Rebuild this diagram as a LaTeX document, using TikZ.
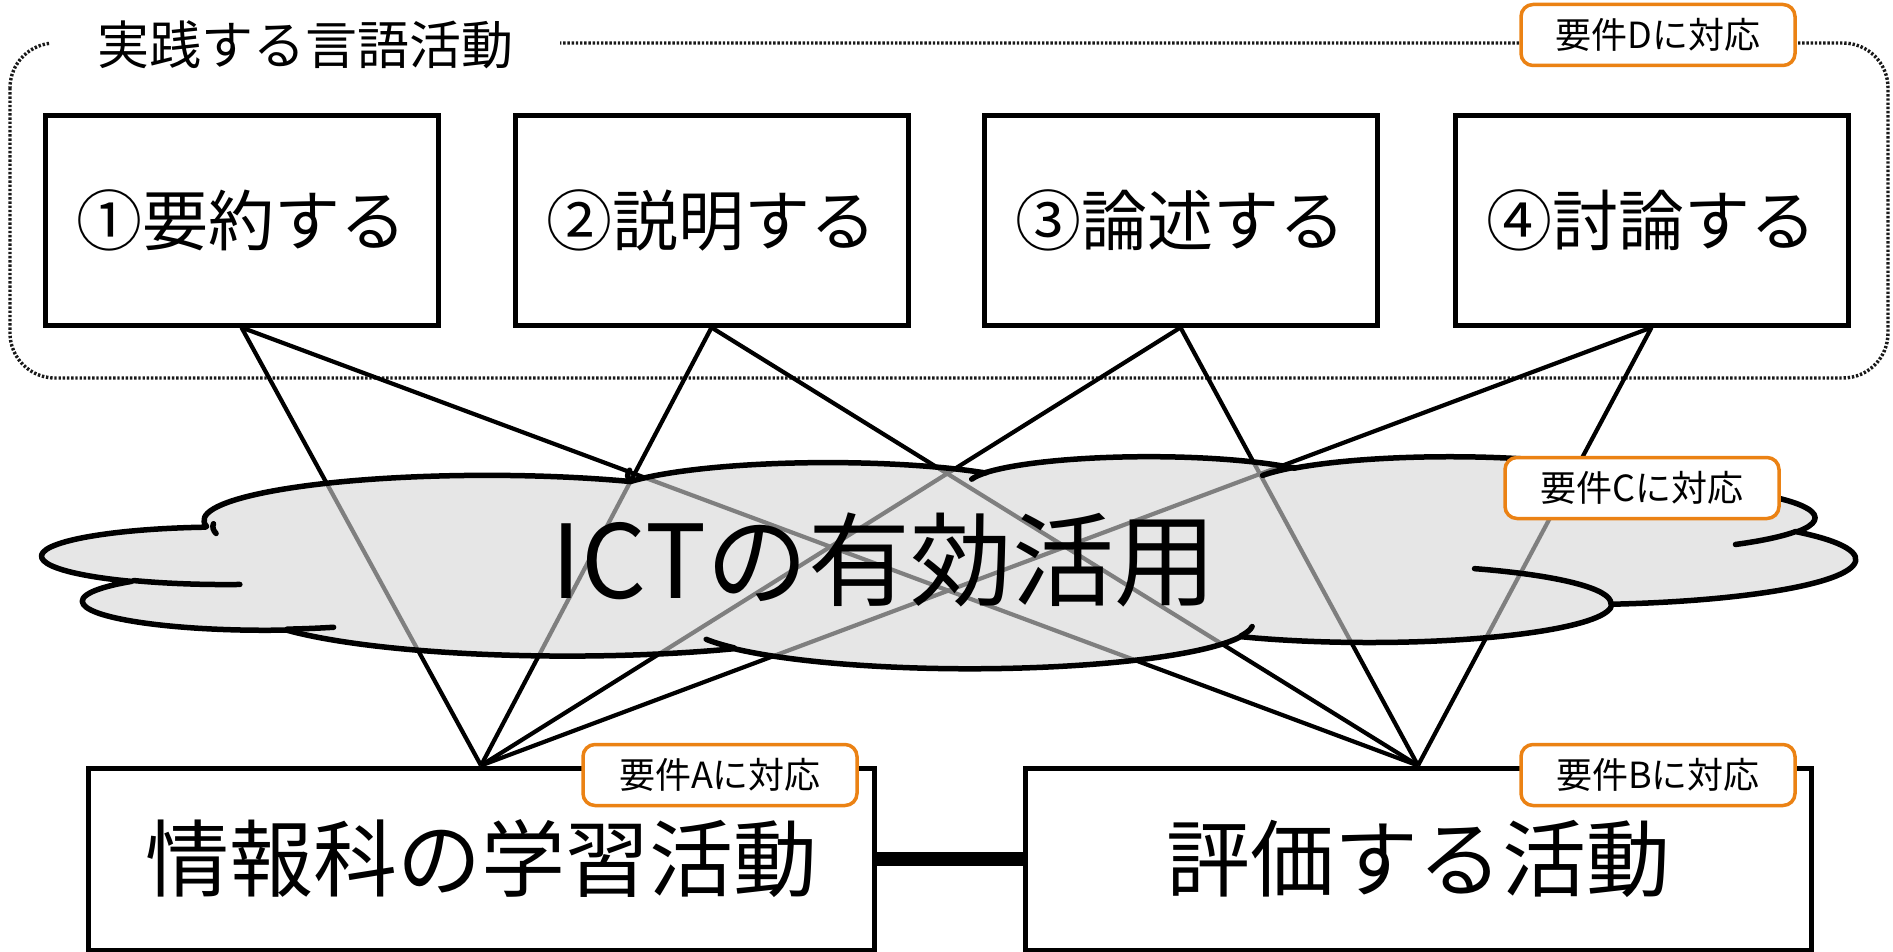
\documentclass[tikz,border=0pt]{standalone}
\usepackage{fontspec}
\setmainfont{Noto Sans CJK JP}

\definecolor{tagorange}{RGB}{235,130,20}
\definecolor{cloudgray}{RGB}{213,213,213}

% --- cloud geometry (DrawingML preset "cloud", path units /100) ---
\def\cldpath{}
\def\cldstubs{}
\newcommand\cldangles[4]{%
  \pgfmathsetmacro\cldta{atan2((#1)*sin(#3),(#2)*cos(#3))}%
  \pgfmathsetmacro\cldtb{atan2((#1)*sin((#3)+(#4)),(#2)*cos((#3)+(#4)))}%
  \pgfmathsetmacro\cldtb{\cldtb+360*(\cldtb<\cldta)}%
}
\newcommand\cldseg[4]{%
  \cldangles{#1}{#2}{#3}{#4}%
  \xdef\cldpath{\cldpath arc[start angle=\cldta, end angle=\cldtb, x radius=#1, y radius=#2]}%
}
\newcommand\cldstub[6]{%
  \cldangles{#3}{#4}{#5}{#6}%
  \xdef\cldstubs{\cldstubs (#1,#2) arc[start angle=\cldta, end angle=\cldtb, x radius=#3, y radius=#4]}%
}
\cldseg{67.53}{91.90}{-190.4875}{123.7805}
\cldseg{53.33}{72.67}{-144.1024}{89.9452}
\cldseg{43.65}{59.45}{-145.8079}{99.7230}
\cldseg{48.57}{65.95}{-130.9861}{117.2417}
\cldseg{53.33}{72.73}{-78.7089}{109.0269}
\cldseg{67.75}{92.20}{-46.2673}{130.2690}
\cldseg{57.85}{78.67}{0.6250}{114.0333}
\cldseg{67.52}{92.15}{22.4516}{115.1726}
\cldseg{77.20}{105.43}{66.2426}{75.7110}
\cldseg{43.60}{59.18}{-274.9421}{146.7356}
\cldseg{43.45}{59.45}{-246.8285}{152.5189}
\cldstub{46.93}{261.77}{43.45}{59.45}{86.7420}{26.4295}
\cldstub{69.28}{348.99}{43.60}{59.18}{73.6105}{11.4475}
\cldstub{164.78}{390.90}{67.52}{92.15}{137.6242}{14.0811}
\cldstub{288.27}{347.51}{67.52}{92.15}{6.4533}{15.9984}
\cldstub{341.29}{229.54}{57.85}{78.67}{-70.2924}{70.9174}
\cldstub{417.98}{153.54}{53.33}{72.73}{30.3180}{27.7515}
\cldstub{383.24}{54.26}{48.57}{65.95}{-13.7443}{14.8589}
\cldstub{290.78}{39.52}{48.57}{65.95}{-149.1815}{18.1954}
\cldstub{221.41}{47.20}{43.65}{59.45}{-163.4943}{17.6864}
\cldstub{140.00}{51.92}{67.53}{91.90}{-190.3896}{19.4188}
\cldstub{41.27}{157.89}{67.53}{91.90}{-191.7076}{16.8454}

\begin{document}
\begin{tikzpicture}[x=1pt,y=-1pt,
  stepbox/.style={draw, line width=5pt, fill=white, minimum width=393pt, minimum height=209pt,
    inner sep=0pt, font=\fontsize{66}{72}\selectfont},
  basebox/.style={draw, line width=5pt, fill=white, minimum width=786pt, minimum height=182pt,
    inner sep=0pt, font=\fontsize{84}{90}\selectfont},
  reqtag/.style={draw=tagorange, line width=3.5pt, fill=white, rounded corners=12pt,
    minimum width=274pt, minimum height=61pt, inner sep=0pt, font=\fontsize{36}{40}\selectfont},
  link/.style={line width=4.2pt, black},
  groupframe/.style={draw=black!90, line width=3.4pt, dash pattern=on 2.4pt off 1.8pt, rounded corners=45pt},
  cloudshape/.style={fill=cloudgray, fill opacity=0.6, draw=black, line width=5.5pt, line join=round},
  cloudstub/.style={draw=black, line width=5.5pt, line cap=round},
]
\useasboundingbox (0,0) rectangle (1893,952);

% group frame
\draw[groupframe] (10,43) rectangle (1888,378);
\node[fill=white, minimum width=510pt, minimum height=44pt, inner sep=0pt,
      font=\fontsize{52}{56}\selectfont] (title) at (305,45) {実践する言語活動};
\node[reqtag] (tagD) at (1658,35) {要件Dに対応};

% language activity boxes
\node[stepbox] (b1) at (241.5,220.5) {①要約する};
\node[stepbox] (b2) at (711.5,220.5) {②説明する};
\node[stepbox] (b3) at (1180.5,220.5) {③論述する};
\node[stepbox] (b4) at (1651.5,220.5) {④討論する};

% bottom boxes
\node[basebox] (la) at (481,859) {情報科の学習活動};
\node[basebox] (lb) at (1418,859) {評価する活動};
\draw[line width=14pt] (la.east) -- (lb.west);

% connectors
\foreach \b in {b1,b2,b3,b4}{
  \draw[link] (\b.south) -- (la.north);
  \draw[link] (\b.south) -- (lb.north);
}

% cloud
\begin{scope}[shift={(43,456)}, xscale=4.19444, yscale=0.490741]
  \edef\clddraw{\noexpand\path[cloudshape] (39.00,143.70) \cldpath\space -- cycle;}
  \clddraw
  \edef\cldstubdraw{\noexpand\path[cloudstub] \cldstubs;}
  \cldstubdraw
\end{scope}
\node[font=\fontsize{102}{108}\selectfont, inner sep=0pt] (ict) at (884,560) {ICTの有効活用};
\node[reqtag] (tagC) at (1642,488) {要件Cに対応};

% requirement tags on bottom boxes
\node[reqtag] (tagA) at (720,775) {要件Aに対応};
\node[reqtag] (tagB) at (1658,775) {要件Bに対応};
\end{tikzpicture}
\end{document}
